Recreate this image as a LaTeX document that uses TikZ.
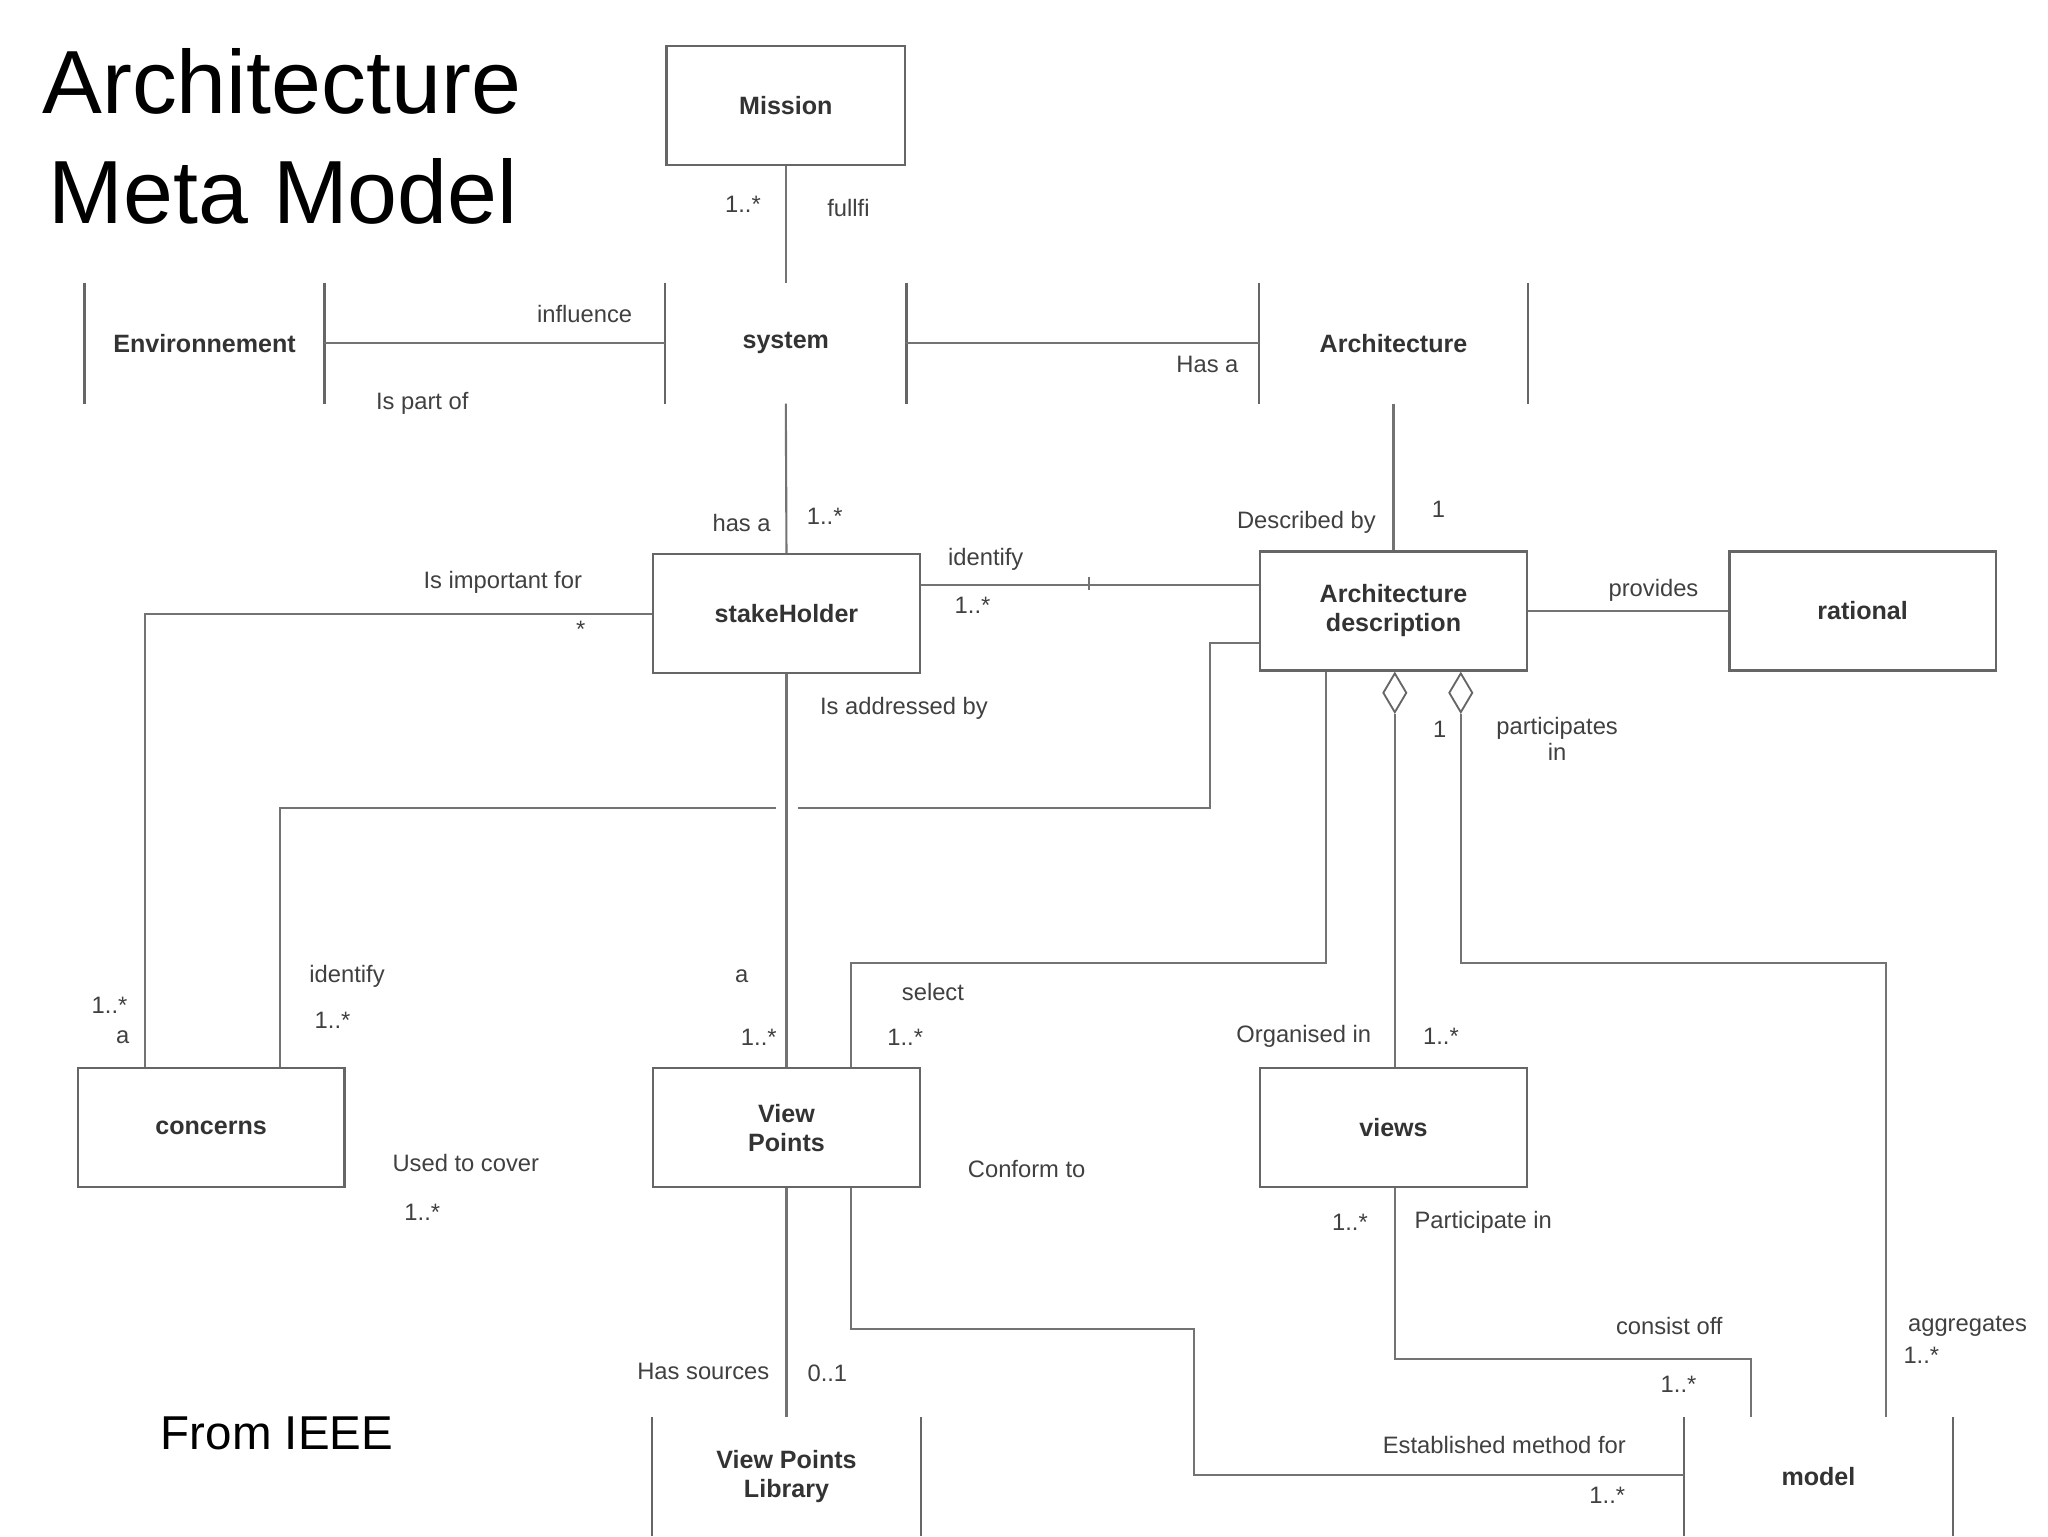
\documentclass[tikz,border=0pt]{standalone}
\usepackage{fontspec}
\setmainfont{Liberation Sans}
\usetikzlibrary{shapes.geometric}
\begin{document}
\begin{tikzpicture}[x=0.5pt,y=-0.5pt,
 line/.style={draw=black!55,line width=0.8pt},
 bx/.style={draw=black!60,line width=0.9pt,minimum width=101pt,minimum height=45pt,inner sep=0pt,align=center,font=\bfseries\fontsize{9.5}{11}\selectfont,text=black!80},
 sd/.style={bx,draw=none},
 lb/.style={font=\fontsize{9}{10}\selectfont,text=black!75,inner sep=0pt,align=center},
 dia/.style={diamond,draw=black!60,fill=white,line width=0.7pt,minimum width=9pt,minimum height=15pt,inner sep=0pt,aspect=0.6}]
\useasboundingbox (0,0) rectangle (1552,1164);
% title
\node[anchor=west,font=\fontsize{34}{42}\selectfont] (t1) at (25,62) {Architecture};
\node[anchor=west,font=\fontsize{34}{42}\selectfont] (t2) at (30,145) {Meta Model};
\node[font=\fontsize{18}{20}\selectfont] (src) at (210,1086) {From IEEE};
% boxes
\node[bx,minimum width=90.5pt] (mis) at (595.5,80) {Mission};
\node[sd,minimum width=90pt] (env) at (155,260) {Environnement};
\node[sd,minimum width=90.5pt] (sys) at (595.5,260) {system};
\node[sd] (arc) at (1056,260) {Architecture};
\node[bx] (stk) at (596,465) {stakeHolder};
\node[bx] (ad) at (1056,463) {Architecture\\description};
\node[bx] (rat) at (1411.5,463) {rational};
\node[bx] (con) at (160,854.5) {concerns};
\node[bx] (vp) at (596,854.5) {View\\Points};
\node[bx] (vw) at (1056,854.5) {views};
\node[sd,minimum height=44pt] (vpl) at (596,1119) {View Points\\Library};
\node[sd,minimum height=44pt] (mod) at (1378,1119) {model};
\foreach \n in {env,sys,arc,vpl,mod}{
 \draw[line,draw=black!60,line width=0.9pt] (\n.north west)--(\n.south west) (\n.north east)--(\n.south east);}
% connectors
\draw[line] (mis.south)--(sys.north);
\draw[line] (env.east)--(sys.west);
\draw[line] (sys.east)--(arc.west);
\draw[line] (sys.south)--(stk.north);
\draw[line] (arc.south)--(ad.north);
\draw[line] (stk.east|-0,443)--(ad.west|-0,443);
\draw[line] (825,437)--(825,447);
\draw[line] (ad.east)--(rat.west);
\draw[line] (stk.west)--(110,465)--(con.north-|110,0);
\draw[line] (ad.west|-0,487)--(917,487)--(917,612)--(605,612);
\draw[line] (588,612)--(212,612)--(con.north-|212,0);
\draw[line] (stk.south)--(vp.north);
\node[dia] (d1) at (1057,525) {};
\node[dia] (d2) at (1107,525) {};
\draw[line] (d1.south)--(vw.north-|d1.south);
\draw[line] (ad.south-|1005,0)--(1005,730)--(645,730)--(vp.north-|645,0);
\draw[line] (d2.south)--(1107,730)--(1429,730)--(mod.north-|1429,0);
\draw[line] (vp.south)--(vpl.north);
\draw[line] (vp.south-|645,0)--(645,1007)--(905,1007)--(905,1118)--(mod.west|-905,1118);
\draw[line] (vw.south-|1057,0)--(1057,1030)--(1327,1030)--(mod.north-|1327,0);
% labels
\node[lb] at (563,155) {1..*};
\node[lb] at (643,158) {fullfi};
\node[lb] at (443,238) {influence};
\node[lb] at (320,306) {Is part of};
\node[lb] at (915,276) {Has a};
\node[lb] at (562,396) {has a};
\node[lb] at (625,391) {1..*};
\node[lb] at (990,396) {Described by};
\node[lb] at (1090,386) {1};
\node[lb] at (381,441) {Is important for};
\node[lb] at (440,477) {*};
\node[lb] at (747,424) {identify};
\node[lb] at (737,459) {1..*};
\node[lb] at (1253,447) {provides};
\node[lb] at (685,537) {Is addressed by};
\node[lb] at (1091,553) {1};
\node[lb] at (1180,560) {participates\\in};
\node[lb] at (263,740) {identify};
\node[lb] at (252,773) {1..*};
\node[lb] at (83,762) {1..*};
\node[lb] at (93,786) {a};
\node[lb] at (562,740) {a};
\node[lb] at (575,786) {1..*};
\node[lb] at (707,752) {select};
\node[lb] at (686,786) {1..*};
\node[lb] at (988,785) {Organised in};
\node[lb] at (1092,785) {1..*};
\node[lb] at (353,881) {Used to cover};
\node[lb] at (320,919) {1..*};
\node[lb] at (778,886) {Conform to};
\node[lb] at (1023,926) {1..*};
\node[lb] at (1124,926) {Participate in};
\node[lb] at (1265,1005) {consist off};
\node[lb] at (1272,1049) {1..*};
\node[lb] at (1491,1005) {aggregates};
\node[lb] at (1456,1027) {1..*};
\node[lb] at (533,1039) {Has sources};
\node[lb] at (627,1041) {0..1};
\node[lb] at (1140,1095) {Established method for};
\node[lb] at (1218,1133) {1..*};
\end{tikzpicture}
\end{document}
